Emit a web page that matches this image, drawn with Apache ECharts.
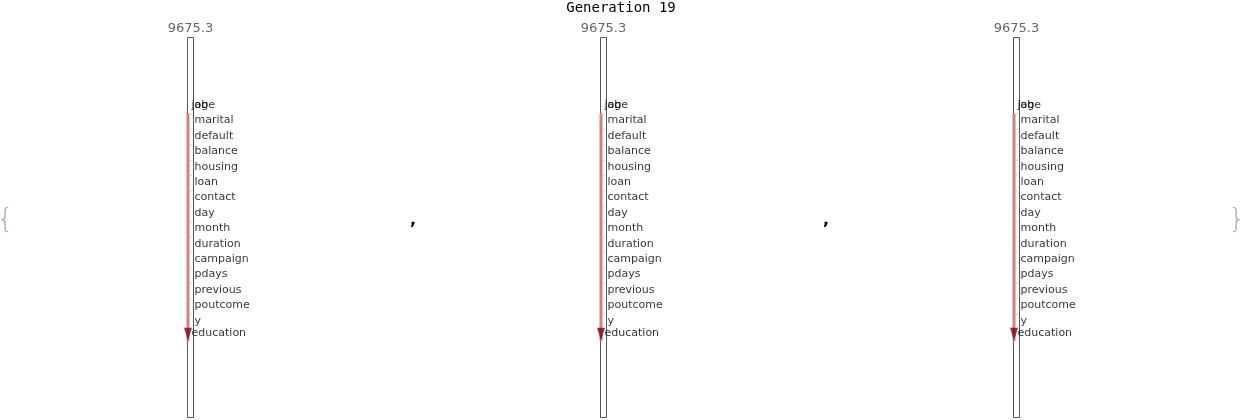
<!DOCTYPE html>
<html>
<head>
<meta charset="utf-8">
<script src="https://cdn.jsdelivr.net/npm/echarts@6/dist/echarts.min.js"></script>
<style>html,body{margin:0;padding:0;background:#fff}#c{width:1242px;height:420px}</style>
</head>
<body>
<div id="c"></div>
<script>
// ---- data ----
const chartTitle = 'Generation 19';
const panelTotals = [9675.3, 9675.3, 9675.3];
const features = ['age','job','marital','default','balance','housing','loan','contact','day','month','duration','campaign','pdays','previous','poutcome','y','education'];
const featureRows = [0, 0, 1, 2, 3, 4, 5, 6, 7, 8, 9, 10, 11, 12, 13, 14, 14.8];
const arrowFrom = 'job';
const arrowTo = 'education';
const arrowStartRow = 0.55;
const arrowEndRow = 15.3;
const rowAxisMin = -4.42;
const rowAxisMax = 20.32;

// ---- layout ----
const centers = [190.5, 603.5, 1016.5];
const gw = 100;
const chart = echarts.init(document.getElementById('c'), null, {renderer: 'canvas'});
const grid = [], xAxis = [], yAxis = [], series = [];
const font = 'DejaVu Sans';

centers.forEach((cx, i) => {
  grid.push({left: cx - gw / 2, width: gw, top: 37, height: 381});
  xAxis.push({type: 'category', gridIndex: i, data: [''], show: false});
  xAxis.push({type: 'value', gridIndex: i, min: -gw / 2, max: gw / 2, show: false});
  yAxis.push({type: 'value', gridIndex: i, min: 0, max: panelTotals[i], show: false});
  yAxis.push({type: 'value', gridIndex: i, min: rowAxisMin, max: rowAxisMax, inverse: true, show: false});
  const xa = 2 * i, ya = 2 * i;
  series.push({
    type: 'bar', xAxisIndex: xa, yAxisIndex: ya, data: [panelTotals[i]], barWidth: 7,
    itemStyle: {color: '#fff', borderColor: '#555', borderWidth: 1},
    label: {show: true, position: 'top', distance: 2, color: '#666', fontSize: 13, fontFamily: font},
    silent: true, z: 1
  });
  series.push({
    type: 'line', xAxisIndex: xa + 1, yAxisIndex: ya + 1,
    data: [[-2.5, arrowStartRow], [-2.5, arrowEndRow]],
    symbol: 'none', lineStyle: {color: '#c98585', width: 3}, z: 3, silent: true
  });
  series.push({
    type: 'scatter', xAxisIndex: xa + 1, yAxisIndex: ya + 1,
    data: [[-2.5, arrowEndRow]], symbol: 'triangle', symbolRotate: 180,
    symbolSize: [8, 13], symbolOffset: [0, -6.5],
    itemStyle: {color: '#850606'}, z: 4, silent: true
  });
  series.push({
    type: 'scatter', xAxisIndex: xa + 1, yAxisIndex: ya + 1,
    data: featureRows.slice(2, 16).map(r => [0.5, r]),
    symbolSize: 1.5, symbolOffset: [0, -6.5], itemStyle: {color: '#f2c000'}, z: 4, silent: true
  });
  series.push({
    type: 'scatter', xAxisIndex: xa + 1, yAxisIndex: ya + 1,
    data: features.map((f, k) => {
      const d = {value: [0.5, featureRows[k], f]};
      if (f === arrowFrom || f === arrowTo) d.label = {offset: [-3, 0]};
      return d;
    }),
    symbolSize: 1, itemStyle: {color: 'rgba(0,0,0,0)'},
    label: {show: true, position: 'right', distance: 3, formatter: p => p.value[2],
      color: '#000', fontSize: 11, fontFamily: font},
    z: 5, silent: true
  });
});

chart.setOption({
  animation: false,
  title: {text: chartTitle, left: 'center', top: -4,
    textStyle: {fontFamily: 'DejaVu Sans Mono', fontSize: 14, fontWeight: 'normal', color: '#000'}},
  grid, xAxis, yAxis, series,
  graphic: [
    {type: 'text', left: -3, top: 207, style: {text: '{', fontSize: 26, fontFamily: 'DejaVu Sans', fontWeight: 100, fill: '#aaa'}},
    {type: 'text', right: -3, top: 207, style: {text: '}', fontSize: 26, fontFamily: 'DejaVu Sans', fontWeight: 100, fill: '#aaa'}},
    {type: 'text', left: 410, top: 213, style: {text: ',', fontSize: 16, fontWeight: 'bold', fontFamily: font, fill: '#000'}},
    {type: 'text', left: 823, top: 213, style: {text: ',', fontSize: 16, fontWeight: 'bold', fontFamily: font, fill: '#000'}}
  ]
});
</script>
</body>
</html>
